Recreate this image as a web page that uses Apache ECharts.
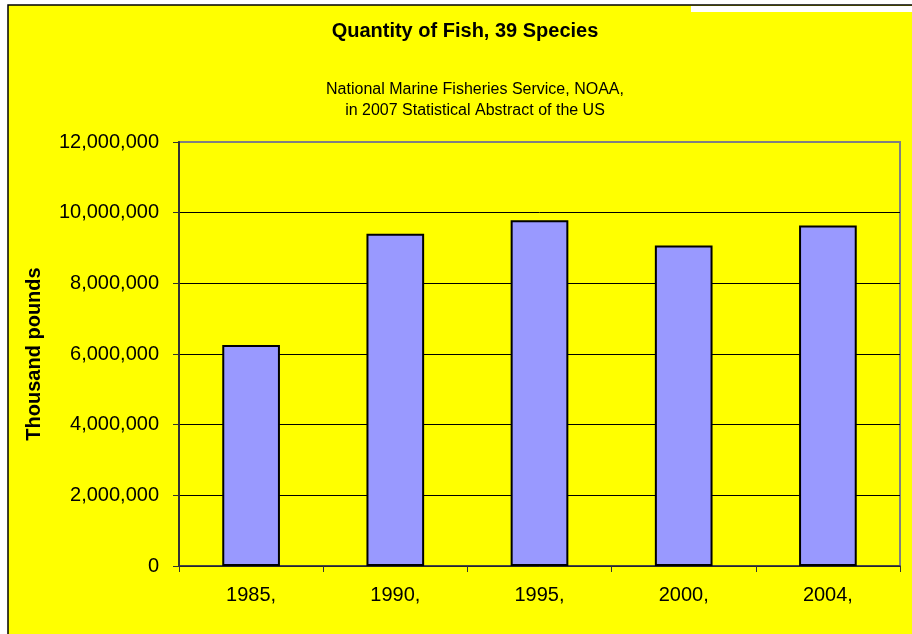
<!DOCTYPE html>
<html>
<head>
<meta charset="utf-8">
<script src="https://cdn.jsdelivr.net/npm/echarts@6/dist/echarts.min.js"></script>
<style>
  html, body { margin: 0; padding: 0; background: #ffffff; }
  #chart { width: 912px; height: 634px; }
</style>
</head>
<body>
<div id="chart"></div>
<script>
// Fish landings, 39 species (thousand pounds)
const years = ['1985,', '1990,', '1995,', '2000,', '2004,'];
const quantity = [6258000, 9404000, 9788000, 9069000, 9634000];
const yTicks = [0, 2000000, 4000000, 6000000, 8000000, 10000000, 12000000];

const titleText = 'Quantity of Fish, 39 Species';
const sourceText = 'National Marine Fisheries Service, NOAA,\nin 2007 Statistical Abstract of the US';
const yAxisTitle = 'Thousand pounds';

const FONT = '"Liberation Sans", Arial, sans-serif';

// gridlines are black; the top one coincides with the grey plot frame
const gridColors = yTicks.map((v, i) => i === yTicks.length - 1 ? '#808080' : '#000000');

const chart = echarts.init(document.getElementById('chart'), null, { renderer: 'canvas' });

chart.setOption({
  backgroundColor: '#ffffff',
  animation: false,
  title: [
    {
      text: titleText,
      left: 465, top: 21, textAlign: 'center', padding: 0,
      textStyle: { fontFamily: FONT, fontSize: 20, fontWeight: 'bold', color: '#000' }
    },
    {
      text: sourceText,
      left: 475, top: 79, textAlign: 'center', padding: 0,
      textStyle: { fontFamily: FONT, fontSize: 16, fontWeight: 'normal', color: '#000', lineHeight: 21 }
    }
  ],
  graphic: [
    {
      type: 'rect', z: -100, silent: true,
      shape: { x: 8, y: 5, width: 912, height: 640 },
      style: { fill: '#ffff00', stroke: '#000000', lineWidth: 1.5 }
    },
    {
      type: 'rect', z: 100, silent: true,
      shape: { x: 691, y: 6, width: 230, height: 6 },
      style: { fill: '#ffffff' }
    }
  ],
  grid: {
    left: 179, right: 12, top: 142, bottom: 68,
    show: true, backgroundColor: 'transparent',
    borderColor: '#808080', borderWidth: 2
  },
  xAxis: {
    type: 'category',
    data: years,
    axisLine: { show: true, lineStyle: { color: '#333333', width: 1.5 } },
    axisTick: { show: true, inside: false, length: 6, lineStyle: { color: '#333333', width: 1 } },
    axisLabel: { fontFamily: FONT, fontSize: 20, color: '#000', margin: 19 },
    splitLine: { show: false }
  },
  yAxis: {
    type: 'value',
    min: 0, max: 12000000, interval: 2000000,
    name: yAxisTitle,
    nameLocation: 'middle',
    nameRotate: 90,
    nameGap: 135,
    nameTextStyle: { fontFamily: FONT, fontSize: 20, fontWeight: 'bold', color: '#000' },
    axisLine: { show: true, lineStyle: { color: '#333333', width: 2 } },
    axisTick: { show: true, inside: false, length: 6, lineStyle: { color: '#333333', width: 1 } },
    axisLabel: {
      fontFamily: FONT, fontSize: 20, color: '#000', margin: 20,
      formatter: v => yTicks.includes(v) ? v.toLocaleString('en-US') : ''
    },
    splitLine: { show: true, lineStyle: { color: gridColors, width: 1 } }
  },
  series: [{
    type: 'bar',
    data: quantity,
    barCategoryGap: '60%',
    itemStyle: { color: '#9999ff', borderColor: '#000000', borderWidth: 2 }
  }]
});
</script>
</body>
</html>
